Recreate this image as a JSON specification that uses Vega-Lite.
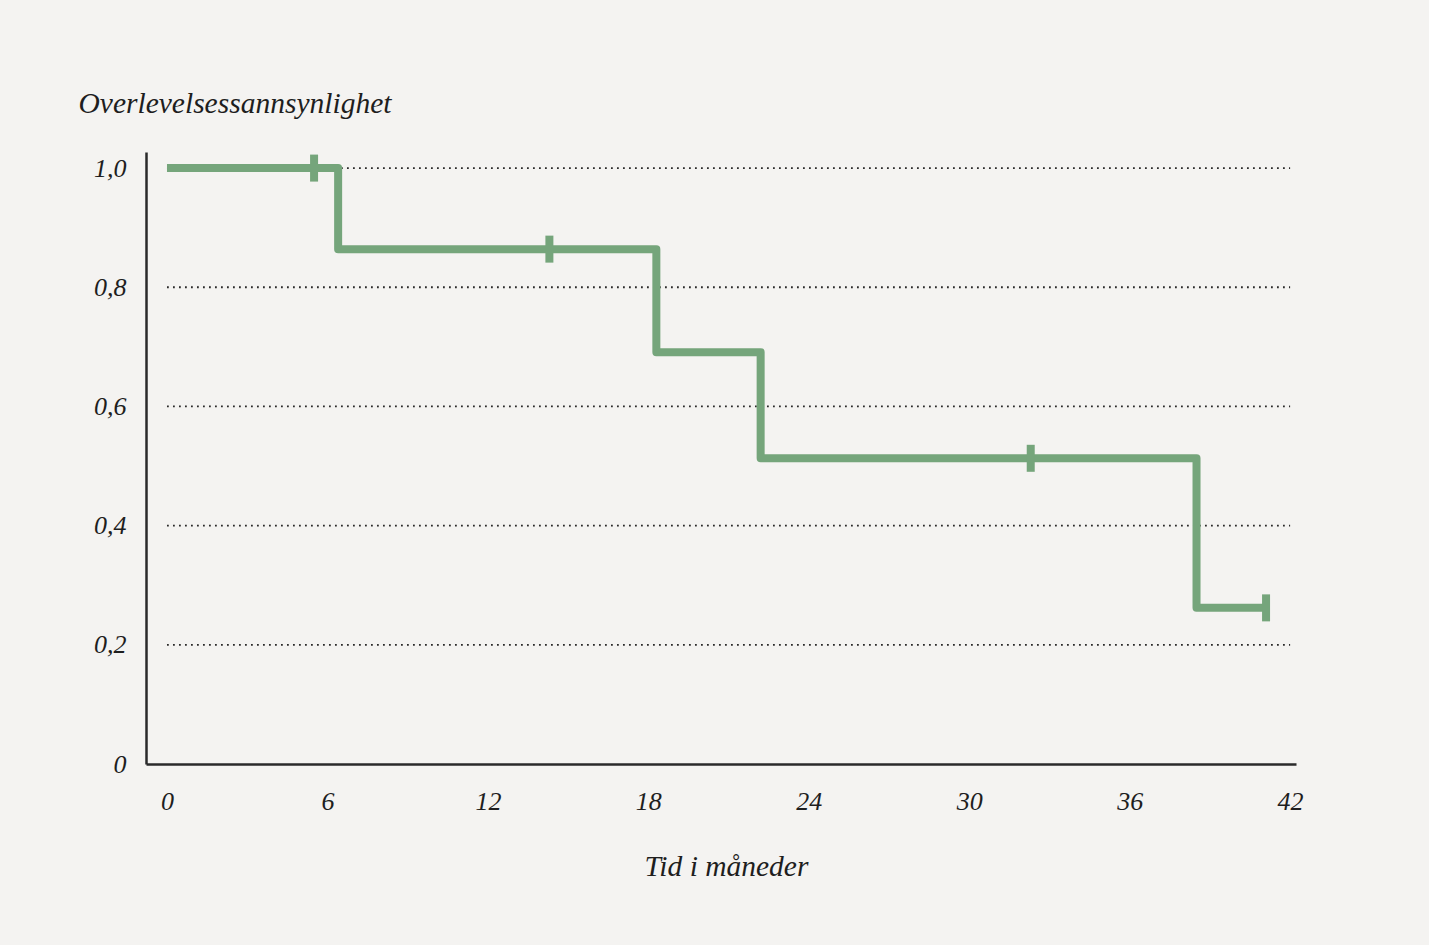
{
  "$schema": "https://vega.github.io/schema/vega-lite/v6.json",
  "width": 1150,
  "height": 612,
  "autosize": {"type": "none"},
  "padding": {"left": 146, "top": 152, "right": 133, "bottom": 181},
  "background": "#f4f3f1",
  "config": {
    "view": {"stroke": null},
    "axis": {
      "labelFont": "Liberation Serif",
      "labelFontStyle": "italic",
      "labelFontSize": 26,
      "labelColor": "#1e1e1e",
      "titleFont": "Liberation Serif",
      "titleFontStyle": "italic",
      "titleFontWeight": "normal",
      "titleFontSize": 29.5,
      "titleColor": "#1e1e1e",
      "domainColor": "#2a2a2a",
      "domainWidth": 2.5,
      "ticks": false,
      "grid": false
    }
  },
  "datasets": {
    "curve": [
      {"t": 0, "s": 1.0},
      {"t": 6.4, "s": 0.864},
      {"t": 18.3, "s": 0.691},
      {"t": 22.2, "s": 0.513},
      {"t": 38.5, "s": 0.262},
      {"t": 41.1, "s": 0.262}
    ],
    "censor": [
      {"t": 5.5, "s": 1.0},
      {"t": 14.3, "s": 0.864},
      {"t": 32.3, "s": 0.513},
      {"t": 41.1, "s": 0.262}
    ],
    "grid": [
      {"g": 0.2}, {"g": 0.4}, {"g": 0.6}, {"g": 0.8}, {"g": 1.0}
    ]
  },
  "layer": [
    {
      "data": {"name": "grid"},
      "mark": {"type": "rule", "color": "#2a2a2a", "strokeWidth": 1.8, "strokeDash": [1.8, 4.2]},
      "encoding": {
        "y": {"field": "g", "type": "quantitative", "scale": {"domain": [0, 1.027], "nice": false, "zero": false},
          "axis": {
            "values": [0, 0.2, 0.4, 0.6, 0.8, 1.0],
            "labelExpr": "datum.value == 0 ? '0' : replace(format(datum.value, '.1f'), '.', ',')",
            "labelPadding": 20,
            "title": "Overlevelsessannsynlighet",
            "titleAngle": 0,
            "titleAlign": "left",
            "titleBaseline": "middle",
            "titleX": -68,
            "titleY": -49
          }},
        "x": {"datum": 0, "type": "quantitative", "scale": {"domain": [-0.785, 42.22], "nice": false, "zero": false},
          "axis": {
            "values": [0, 6, 12, 18, 24, 30, 36, 42],
            "labelPadding": 37,
            "labelBaseline": "middle",
            "title": "Tid i måneder",
            "titleBaseline": "middle",
            "titleAnchor": "start",
            "titleAlign": "center",
            "titleX": 580,
            "titleY": 102
          }},
        "x2": {"datum": 42}
      }
    },
    {
      "data": {"name": "curve"},
      "mark": {"type": "line", "interpolate": "step-after", "color": "#75a57b", "strokeWidth": 8, "strokeJoin": "round", "strokeCap": "butt"},
      "encoding": {
        "x": {"field": "t", "type": "quantitative"},
        "y": {"field": "s", "type": "quantitative"}
      }
    },
    {
      "data": {"name": "censor"},
      "mark": {"type": "tick", "orient": "vertical", "color": "#75a57b", "size": 27, "thickness": 8, "opacity": 1},
      "encoding": {
        "x": {"field": "t", "type": "quantitative"},
        "y": {"field": "s", "type": "quantitative"}
      }
    }
  ]
}
